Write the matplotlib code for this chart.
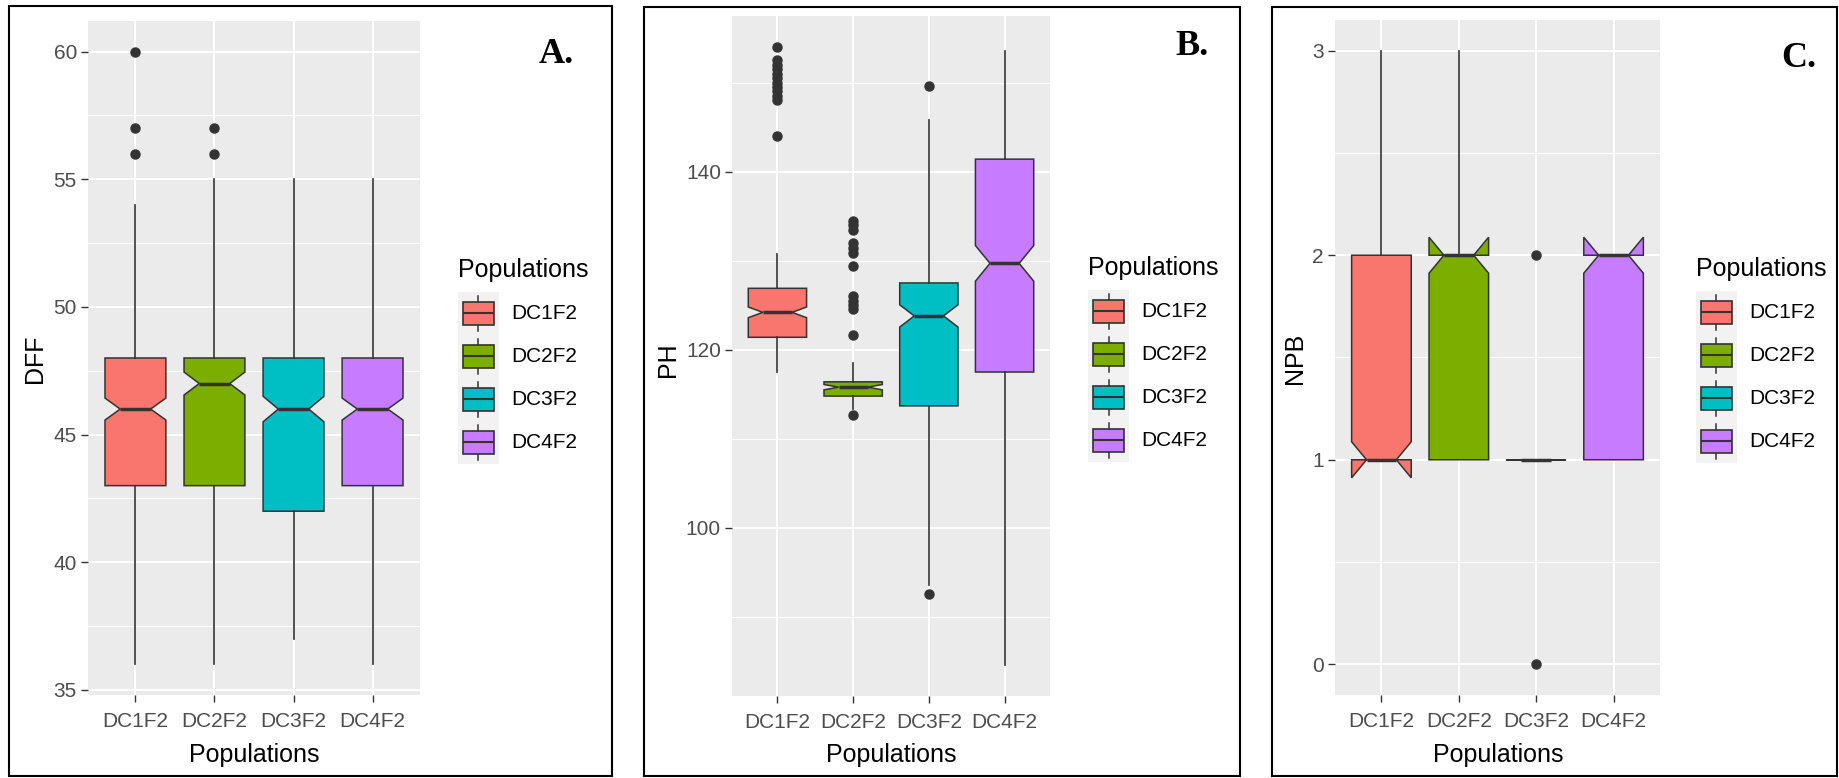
import matplotlib
matplotlib.use("Agg")
import matplotlib.pyplot as plt
from matplotlib.patches import Rectangle, Patch
from matplotlib.lines import Line2D
from matplotlib.legend_handler import HandlerBase

plt.rcParams["font.family"] = ["Liberation Sans", "DejaVu Sans"]

# ---------------------------------------------------------------- data
populations = ["DC1F2", "DC2F2", "DC3F2", "DC4F2"]
fill_colors = ["#F8766D", "#7CAE00", "#00BFC4", "#C77CFF"]

# Days to 50% flowering (DFF)
dff_whislo = [36, 36, 37, 36]
dff_q1 = [43, 43, 42, 43]
dff_med = [46, 47, 46, 46]
dff_q3 = [48, 48, 48, 48]
dff_whishi = [54, 55, 55, 55]
dff_notch = [0.43, 0.45, 0.5, 0.43]
dff_outliers = [[56, 57, 60], [56, 57], [], []]
dff_ticks = [35, 40, 45, 50, 55, 60]
dff_minor = [37.5, 42.5, 47.5, 52.5, 57.5]

# Plant height (PH)
ph_whislo = [117.5, 113.4, 93.6, 84.6]
ph_q1 = [121.4, 114.8, 113.7, 117.5]
ph_med = [124.2, 115.8, 123.8, 129.7]
ph_q3 = [126.9, 116.4, 127.5, 141.4]
ph_whishi = [130.8, 118.5, 145.8, 153.5]
ph_notch = [0.6, 0.3, 1.25, 2.0]
ph_outliers = [
    [144.0, 148.0, 148.5, 149.0, 149.5, 150.0, 150.5, 151.0, 151.5, 152.0, 152.5, 154.0],
    [112.7, 121.7, 124.6, 125.0, 125.5, 126.0, 129.4, 130.9, 131.4, 132.0, 133.5, 134.0, 134.4],
    [92.6, 149.6],
    [],
]
ph_ticks = [100, 120, 140]
ph_minor = [90, 110, 130, 150]

# Number of primary branches (NPB)
npb_whislo = [1, 1, 1, 1]
npb_q1 = [1, 1, 1, 1]
npb_med = [1, 2, 1, 2]
npb_q3 = [2, 2, 1, 2]
npb_whishi = [3, 3, 1, 2]
npb_notch = [0.088, 0.088, 0.0, 0.088]
npb_outliers = [[], [], [0, 2], []]
npb_ticks = [0, 1, 2, 3]
npb_minor = [0.5, 1.5, 2.5]

# ---------------------------------------------------------------- layout
FIG_W, FIG_H = 1840, 778
fig = plt.figure(figsize=(FIG_W / 100, FIG_H / 100), dpi=100)


def fx(px):
    return px / FIG_W


def fy(py):
    return 1 - py / FIG_H


def axes_px(left, top, right, bottom):
    return fig.add_axes([fx(left), fy(bottom), (right - left) / FIG_W, (bottom - top) / FIG_H])


EDGE = "#333333"


class BoxKey(HandlerBase):
    """Legend key drawn as a small boxplot glyph on a light grey tile."""

    def create_artists(self, legend, orig_handle, xdescent, ydescent,
                       width, height, fontsize, trans):
        x0, y0 = -xdescent, -ydescent
        cx, cy = x0 + width / 2, y0 + height / 2
        bw, bh, wh = width * 31 / 41, height * 23 / 43, height * 35 / 43
        bg = Rectangle((x0, y0), width, height, facecolor="#F2F2F2",
                       edgecolor="none", transform=trans)
        w_top = Line2D([cx, cx], [cy + bh / 2, cy + wh / 2], color=EDGE,
                       lw=1.1, transform=trans)
        w_bot = Line2D([cx, cx], [cy - bh / 2, cy - wh / 2], color=EDGE,
                       lw=1.1, transform=trans)
        box = Rectangle((cx - bw / 2, cy - bh / 2), bw, bh,
                        facecolor=orig_handle.get_facecolor(), edgecolor=EDGE,
                        lw=1.2, transform=trans)
        med = Line2D([cx - bw / 2, cx + bw / 2], [cy, cy], color=EDGE,
                     lw=1.5, solid_capstyle="butt", transform=trans)
        return [bg, w_top, w_bot, box, med]


def draw_panel(ax, whislo, q1, med, q3, whishi, notch, outliers,
               ticks, minor, ylabel):
    stats = []
    for i in range(len(populations)):
        stats.append(dict(whislo=whislo[i], q1=q1[i], med=med[i], q3=q3[i],
                          whishi=whishi[i], cilo=med[i] - notch[i],
                          cihi=med[i] + notch[i], fliers=outliers[i],
                          label=populations[i]))
    pos = list(range(1, len(populations) + 1))
    art = ax.bxp(stats, positions=pos, widths=0.77, patch_artist=True,
                 shownotches=True, showcaps=False,
                 boxprops=dict(edgecolor=EDGE, linewidth=1.1),
                 medianprops=dict(color=EDGE, linewidth=2.5, solid_capstyle="butt"),
                 whiskerprops=dict(color=EDGE, linewidth=1.2),
                 flierprops=dict(marker="o", markerfacecolor=EDGE,
                                 markeredgecolor=EDGE, markersize=6.5))
    for patch, col in zip(art["boxes"], fill_colors):
        patch.set_facecolor(col)

    # 5% expansion of the continuous scale, 0.6 for the discrete one
    all_out = [v for o in outliers for v in o]
    lo = min(list(whislo) + all_out)
    hi = max(list(whishi) + all_out)
    pad = (hi - lo) * 0.05
    ax.set_ylim(lo - pad, hi + pad)
    ax.set_xlim(0.4, len(populations) + 0.6)

    ax.set_facecolor("#EBEBEB")
    for s in ax.spines.values():
        s.set_visible(False)
    ax.set_yticks(ticks)
    ax.set_yticks(minor, minor=True)
    ax.set_xticks(pos)
    ax.set_xticklabels(populations)
    ax.set_axisbelow(True)
    ax.grid(True, which="major", color="white", linewidth=1.5)
    ax.grid(True, which="minor", axis="y", color="white", linewidth=0.8)
    ax.tick_params(which="major", length=5, width=1.0, color=EDGE,
                   labelsize=15, labelcolor="#4D4D4D", pad=3)
    ax.tick_params(axis="x", which="major", pad=7)
    ax.tick_params(which="minor", length=0)
    ax.set_xlabel("Populations", fontsize=18, va="center")
    ax.set_ylabel(ylabel, fontsize=18, va="center")


panels = [
    dict(ax=(88, 21, 420, 695), frame=(9, 6, 612, 776), leg=(458, 258),
         tag="A.", tag_xy=(539, 63), xl=(254, 755), yl=(35, 359),
         data=(dff_whislo, dff_q1, dff_med, dff_q3, dff_whishi, dff_notch,
               dff_outliers, dff_ticks, dff_minor, "DFF")),
    dict(ax=(732, 16, 1050, 696), frame=(644, 7, 1240, 776), leg=(1088, 256),
         tag="B.", tag_xy=(1175, 55), xl=(891, 755), yl=(668, 360),
         data=(ph_whislo, ph_q1, ph_med, ph_q3, ph_whishi, ph_notch,
               ph_outliers, ph_ticks, ph_minor, "PH")),
    dict(ax=(1335, 20, 1660, 695), frame=(1272, 7, 1837, 776), leg=(1696, 257),
         tag="C.", tag_xy=(1781, 67), xl=(1498, 755), yl=(1295, 358),
         data=(npb_whislo, npb_q1, npb_med, npb_q3, npb_whishi, npb_notch,
               npb_outliers, npb_ticks, npb_minor, "NPB")),
]

for p in panels:
    ax = axes_px(*p["ax"])
    draw_panel(ax, *p["data"])
    ax.xaxis.set_label_coords(fx(p["xl"][0]), fy(p["xl"][1]), transform=fig.transFigure)
    ax.yaxis.set_label_coords(fx(p["yl"][0]), fy(p["yl"][1]), transform=fig.transFigure)

    handles = [Patch(facecolor=c) for c in fill_colors]
    leg = ax.legend(handles, populations, title="Populations",
                    handler_map={Patch: BoxKey()},
                    loc="upper left",
                    bbox_to_anchor=(fx(p["leg"][0]), fy(p["leg"][1])),
                    bbox_transform=fig.transFigure,
                    frameon=False, fontsize=15, title_fontsize=18,
                    alignment="left", borderpad=0, labelspacing=0,
                    handlelength=1.968, handleheight=2.798,
                    handletextpad=0.58, borderaxespad=0)
    leg._legend_box.sep = 7

    l, t, r, b = p["frame"]
    fig.patches.append(Rectangle((fx(l), fy(b)), (r - l) / FIG_W, (b - t) / FIG_H,
                                 transform=fig.transFigure, fill=False,
                                 edgecolor="black", linewidth=1.5))
    fig.text(fx(p["tag_xy"][0]), fy(p["tag_xy"][1]), p["tag"],
             family=["Liberation Serif", "DejaVu Serif"], fontweight="bold",
             fontsize=26, ha="left", va="baseline")

fig.savefig("out.png", dpi=100, facecolor="white")
